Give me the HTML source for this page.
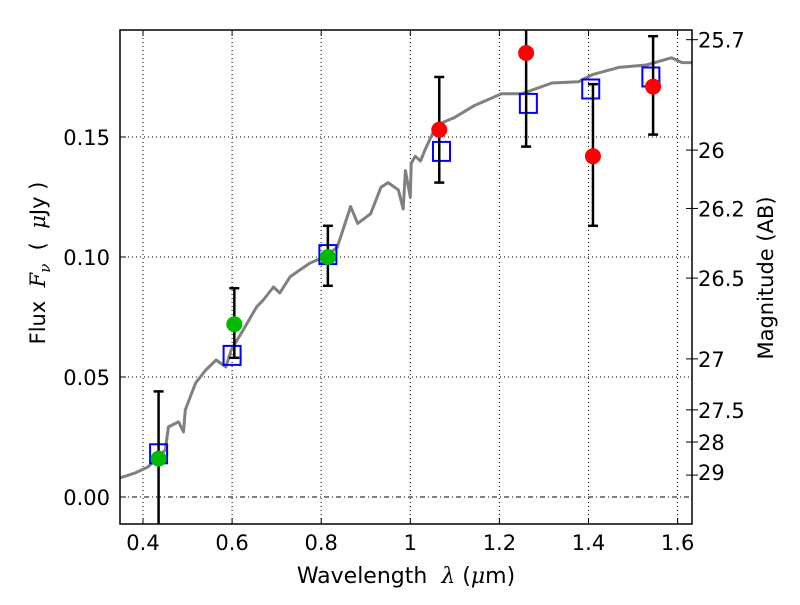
<!DOCTYPE html>
<html><head><meta charset="utf-8"><style>
body{margin:0;background:#fff;}
svg text{font-family:"DejaVu Sans","Liberation Sans",sans-serif;}
</style></head><body>
<svg id="chart" width="800" height="600" xmlns="http://www.w3.org/2000/svg">
<rect width="800" height="600" fill="#fff"/>
<defs><clipPath id="clip"><rect x="120" y="30" width="572" height="494"/></clipPath></defs>
<g id="grid"></g>
<g id="spec"></g>
<g id="marks"></g>
<g id="axes"></g>
</svg>
<script>
const xTicks=[0.4,0.6,0.8,1.0,1.2,1.4,1.6];
const xTickLabels=["0.4","0.6","0.8","1","1.2","1.4","1.6"];
const yTicks=[0,0.05,0.10,0.15];
const yTickLabels=["0.00","0.05","0.10","0.15"];
const magTicks=[25.7,26,26.2,26.5,27,27.5,28,29];
const magTickLabels=["25.7","26","26.2","26.5","27","27.5","28","29"];
const specX=[0.336,0.348,0.382,0.411,0.450,0.457,0.480,0.491,0.495,0.518,0.541,0.564,0.586,0.598,0.625,0.655,0.670,0.693,0.707,0.730,0.752,0.775,0.807,0.836,0.866,0.882,0.911,0.934,0.950,0.973,0.984,0.989,1.0,1.002,1.008,1.011,1.023,1.034,1.059,1.098,1.143,1.205,1.250,1.295,1.318,1.377,1.409,1.468,1.530,1.586,1.610,1.640];
const specY=[0.0071,0.0079,0.010,0.0125,0.0196,0.0292,0.0313,0.0271,0.0363,0.0475,0.0529,0.0571,0.0542,0.0613,0.0696,0.0792,0.0821,0.0875,0.085,0.0917,0.0946,0.0975,0.100,0.104,0.121,0.114,0.118,0.129,0.131,0.128,0.120,0.136,0.125,0.139,0.141,0.142,0.140,0.145,0.155,0.158,0.163,0.168,0.168,0.171,0.1725,0.173,0.176,0.179,0.180,0.183,0.181,0.181];
const greenX=[0.435,0.605,0.815];
const greenY=[0.016,0.072,0.100];
const greenLo=[-0.012,0.058,0.088];
const greenHi=[0.044,0.087,0.113];
const redX=[1.065,1.26,1.41,1.545];
const redY=[0.153,0.185,0.142,0.171];
const redLo=[0.131,0.146,0.113,0.151];
const redHi=[0.175,0.198,0.172,0.192];
const modelX=[0.435,0.600,0.815,1.070,1.265,1.405,1.540];
const modelY=[0.018,0.059,0.101,0.144,0.164,0.170,0.175];

const L=120,R=692,T=30,B=524;
const X0=0.3484,X1=1.6323,Y0=-0.01125,Y1=0.19458;
const sx=v=>L+(v-X0)/(X1-X0)*(R-L);
const sy=v=>B-(v-Y0)/(Y1-Y0)*(B-T);
const NS="http://www.w3.org/2000/svg";
function mk(parent,tag,attrs){const e=document.createElementNS(NS,tag);for(const k in attrs)e.setAttribute(k,attrs[k]);document.getElementById(parent).appendChild(e);return e;}

xTicks.forEach((v,i)=>{
 const g=mk('grid','line',{x1:sx(v),x2:sx(v),y1:T,y2:B,stroke:'#000','stroke-dasharray':'1,3','stroke-width':1});
 
 
 mk('axes','line',{x1:sx(v),x2:sx(v),y1:B,y2:B-6,stroke:'#000'});
 mk('axes','line',{x1:sx(v),x2:sx(v),y1:T,y2:T+6,stroke:'#000'});
 const t=mk('axes','text',{x:sx(v),y:B+26,'text-anchor':'middle','font-size':21});
 t.textContent=xTickLabels[i];
 
 
});
yTicks.forEach((v,i)=>{
 const g=mk('grid','line',{x1:L,x2:R,y1:sy(v),y2:sy(v),stroke:'#000','stroke-dasharray':v===0?'5,3,1,3':'1,3','stroke-width':1});
 
 
 mk('axes','line',{x1:L,x2:L+6,y1:sy(v),y2:sy(v),stroke:'#000'});
 const t=mk('axes','text',{x:L-10,y:sy(v)+8,'text-anchor':'end','font-size':21});
 t.textContent=yTickLabels[i];
 
 
});
magTicks.forEach((m,i)=>{
 const f=Math.pow(10,(23.9-m)/2.5);const y=sy(f);
 mk('axes','line',{x1:R-6,x2:R+6,y1:y,y2:y,stroke:'#000'});
 const t=mk('axes','text',{x:R+6,y:Math.min(y,472)+8,'font-size':21});
 t.textContent=magTickLabels[i];
 
 
});
let d='';specX.forEach((v,i)=>{d+=(i?'L':'M')+sx(v).toFixed(1)+','+sy(specY[i]).toFixed(1);});
const sp=mk('spec','path',{d:d,fill:'none',stroke:'#808080','stroke-width':3,'stroke-linejoin':'round','clip-path':'url(#clip)'});


function errbar(x,lo,hi){
 const a=Math.max(sy(hi),T),b=Math.min(sy(lo),B);
 mk('marks','line',{x1:sx(x),x2:sx(x),y1:a,y2:b,stroke:'#000','stroke-width':2.5});
 if(sy(hi)>=T)mk('marks','line',{x1:sx(x)-5,x2:sx(x)+5,y1:a,y2:a,stroke:'#000','stroke-width':2.5});
 if(sy(lo)<=B)mk('marks','line',{x1:sx(x)-5,x2:sx(x)+5,y1:b,y2:b,stroke:'#000','stroke-width':2.5});
}
modelX.forEach((v,i)=>{
 const r=mk('marks','rect',{x:sx(v)-8.5,y:sy(modelY[i])-9.5,width:17,height:19,fill:'none',stroke:'#0000ff','stroke-width':2});
 
 
});
greenX.forEach((v,i)=>{
 errbar(v,greenLo[i],greenHi[i]);
 const c=mk('marks','circle',{cx:sx(v),cy:sy(greenY[i]),r:8,fill:'#00bb00'});
 
 
});
redX.forEach((v,i)=>{
 errbar(v,redLo[i],redHi[i]);
 const c=mk('marks','circle',{cx:sx(v),cy:sy(redY[i]),r:8,fill:'#ff0000'});
 
 
});
const fr=mk('axes','rect',{x:L,y:T,width:R-L,height:B-T,fill:'none',stroke:'#000','stroke-width':1.5});


</script>
<svg style="position:absolute;left:0;top:0" width="800" height="600" xmlns="http://www.w3.org/2000/svg">
<text x="406" y="583" text-anchor="middle" font-size="22" font-family="DejaVu Sans, sans-serif" xml:space="preserve">Wavelength  <tspan font-family="DejaVu Serif, serif" font-style="italic">λ</tspan> (<tspan font-family="DejaVu Serif, serif" font-style="italic">μ</tspan>m)</text>
<text transform="translate(45,263) rotate(-90)" text-anchor="middle" font-size="21" font-family="DejaVu Sans, sans-serif" xml:space="preserve">Flux  <tspan font-family="DejaVu Serif, serif" font-style="italic">F</tspan><tspan font-family="DejaVu Serif, serif" font-style="italic" font-size="15" dy="5">ν</tspan><tspan dy="-5">  (  </tspan><tspan font-family="DejaVu Serif, serif" font-style="italic">μ</tspan>Jy )</text>
<text transform="translate(773,278) rotate(-90)" text-anchor="middle" font-size="21" font-family="DejaVu Sans, sans-serif">Magnitude (AB)</text>
</svg>
</body></html>
